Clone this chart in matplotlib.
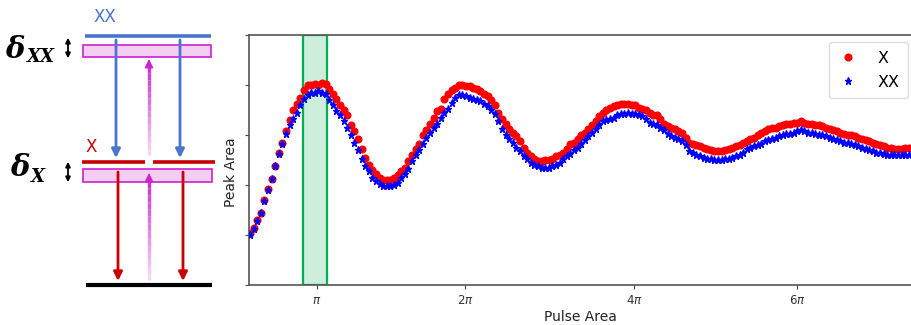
import matplotlib
matplotlib.use("Agg")
import matplotlib.pyplot as plt
from matplotlib.patches import Rectangle
import numpy as np

# ---------------- data ----------------
x_peak = [0.21, 0.23, 0.26, 0.29, 0.34, 0.385, 0.425, 0.475, 0.53, 0.57,
          0.615, 0.66, 0.70, 0.725, 0.75, 0.78, 0.80, 0.80, 0.805, 0.80,
          0.81, 0.805, 0.785, 0.765, 0.745, 0.72, 0.70, 0.68, 0.64, 0.615,
          0.585, 0.545, 0.51, 0.48, 0.46, 0.445, 0.43, 0.42, 0.42, 0.42,
          0.43, 0.44, 0.455, 0.47, 0.495, 0.52, 0.545, 0.565, 0.60, 0.62,
          0.645, 0.67, 0.695, 0.705, 0.745, 0.765, 0.78, 0.79, 0.80, 0.80,
          0.795, 0.795, 0.79, 0.785, 0.775, 0.765, 0.755, 0.74, 0.72, 0.69,
          0.665, 0.645, 0.625, 0.61, 0.595, 0.575, 0.55, 0.53, 0.515, 0.505,
          0.495, 0.495, 0.50, 0.50, 0.505, 0.515, 0.52, 0.53, 0.545, 0.565,
          0.57, 0.585, 0.60, 0.61, 0.625, 0.64, 0.655, 0.675, 0.69, 0.70,
          0.71, 0.715, 0.72, 0.725, 0.725, 0.725, 0.72, 0.72, 0.71, 0.705,
          0.70, 0.69, 0.68, 0.68, 0.665, 0.645, 0.635, 0.63, 0.625, 0.615,
          0.61, 0.59, 0.57, 0.565, 0.56, 0.555, 0.55, 0.545, 0.54, 0.535,
          0.535, 0.535, 0.54, 0.545, 0.55, 0.555, 0.56, 0.57, 0.575, 0.585,
          0.59, 0.60, 0.61, 0.615, 0.625, 0.63, 0.63, 0.635, 0.64, 0.645,
          0.645, 0.65, 0.65, 0.655, 0.65, 0.645, 0.645, 0.64, 0.64, 0.635,
          0.63, 0.625, 0.62, 0.615, 0.61, 0.605, 0.60, 0.60, 0.595, 0.59,
          0.585, 0.58, 0.575, 0.57, 0.565, 0.56, 0.555, 0.55, 0.55, 0.545,
          0.545, 0.545, 0.55, 0.55]

xx_peak = [0.20, 0.225, 0.255, 0.29, 0.335, 0.38, 0.425, 0.475, 0.525, 0.565,
           0.605, 0.64, 0.665, 0.69, 0.72, 0.745, 0.76, 0.77, 0.77, 0.775,
           0.77, 0.765, 0.74, 0.72, 0.695, 0.68, 0.655, 0.63, 0.60, 0.57,
           0.54, 0.505, 0.475, 0.455, 0.43, 0.415, 0.405, 0.395, 0.395, 0.395,
           0.40, 0.41, 0.43, 0.445, 0.465, 0.495, 0.52, 0.54, 0.565, 0.59,
           0.61, 0.63, 0.645, 0.67, 0.69, 0.705, 0.73, 0.75, 0.76, 0.76,
           0.755, 0.75, 0.745, 0.74, 0.735, 0.725, 0.715, 0.70, 0.685, 0.655,
           0.625, 0.60, 0.585, 0.57, 0.55, 0.535, 0.515, 0.505, 0.49, 0.48,
           0.475, 0.47, 0.47, 0.47, 0.475, 0.48, 0.49, 0.505, 0.515, 0.525,
           0.54, 0.55, 0.565, 0.58, 0.595, 0.61, 0.625, 0.64, 0.655, 0.66,
           0.665, 0.67, 0.68, 0.685, 0.685, 0.69, 0.685, 0.685, 0.68, 0.675,
           0.665, 0.65, 0.645, 0.64, 0.63, 0.62, 0.605, 0.595, 0.59, 0.585,
           0.575, 0.56, 0.535, 0.53, 0.52, 0.515, 0.51, 0.505, 0.505, 0.50,
           0.50, 0.50, 0.505, 0.505, 0.51, 0.515, 0.52, 0.53, 0.545, 0.55,
           0.555, 0.56, 0.565, 0.575, 0.58, 0.585, 0.59, 0.595, 0.60, 0.605,
           0.605, 0.61, 0.615, 0.62, 0.615, 0.61, 0.61, 0.605, 0.60, 0.60,
           0.595, 0.59, 0.585, 0.58, 0.575, 0.57, 0.57, 0.565, 0.56, 0.555,
           0.55, 0.545, 0.54, 0.535, 0.53, 0.53, 0.525, 0.52, 0.52, 0.52,
           0.52, 0.52, 0.52, 0.52]

sample_index = np.arange(len(x_peak))           # power step index
tick_positions = [18.6, 59.7, 106.7, 151.9]      # sample index of the labelled pulse areas
tick_labels = [r'$\pi$', r'$2\pi$', r'$4\pi$', r'$6\pi$']
y_ticks = [0.0, 0.2, 0.4, 0.6, 0.8, 1.0]
highlight_span = (14.7, 21.4)                     # pi-pulse window (sample index)
series_labels = ['X', 'XX']

# ---------------- figure ----------------
W, H = 911, 325
fig = plt.figure(figsize=(W / 100, H / 100), dpi=100)

# main plot
ax = fig.add_axes([249 / W, 1 - 285 / H, (911 - 249) / W, 250 / H])
ax.axvspan(*highlight_span, facecolor='#cdeedb', edgecolor='#00b050', linewidth=1.6, zorder=0)
ax.plot(sample_index, x_peak, 'o', color='red', markersize=4.8, label=series_labels[0], zorder=2)
ax.plot(sample_index, xx_peak, '*', color='blue', markersize=5.2, label=series_labels[1], zorder=3)
ax.set_xlim(-0.28, 183.6)
ax.set_ylim(0, 1)
ax.set_xticks(tick_positions)
ax.set_xticklabels(tick_labels, fontsize=8.5, color='#333333')
ax.set_yticks(y_ticks)
ax.set_yticklabels([])
ax.tick_params(length=3, color='#444444', width=0.8)
for s in ['left', 'top', 'bottom']:
    ax.spines[s].set_color('#555555')
    ax.spines[s].set_linewidth(1.2)
ax.spines['right'].set_visible(False)
ax.set_xlabel('Pulse Area', fontsize=10, color='#222222', labelpad=2)
ax.set_ylabel('Peak Area', fontsize=10, color='#222222')
ax.yaxis.set_label_coords(-0.016, 0.45)
leg = ax.legend(loc='upper right', fontsize=11.5, markerscale=1.0, handlelength=1.4,
                handletextpad=1.1, borderpad=0.55, labelspacing=0.55, framealpha=1,
                edgecolor='#dddddd', bbox_to_anchor=(0.9955, 0.972), borderaxespad=0)

# ---------------- energy diagram ----------------
d = fig.add_axes([0, 0, 230 / W, 1])
d.set_xlim(0, 230)
d.set_ylim(H, 0)
d.axis('off')

blue = '#4a74d0'
red = '#c80000'
mag = '#cc22cc'
pink = '#f4cdf2'
serif = dict(family='DejaVu Serif', style='italic', weight='bold', color='black')

d.text(93, 17, 'XX', color=blue, fontsize=12, va='center', ha='left')
d.plot([85, 211], [36, 36], color=blue, lw=2.6, solid_capstyle='butt')
d.add_patch(Rectangle((83, 45), 128, 12, facecolor=pink, edgecolor=mag, lw=1.2))
d.text(5, 49, 'δ', fontsize=21, va='center', ha='left', **serif)
d.text(27, 57, 'XX', fontsize=13, va='center', ha='left', **serif)
d.annotate('', xy=(68, 35), xytext=(68, 61),
           arrowprops=dict(arrowstyle='<|-|>', color='black', lw=1.3, mutation_scale=7))

d.text(85, 147, 'X', color=red, fontsize=12, va='center', ha='left')
d.plot([82, 145], [162, 162], color=red, lw=2.6, solid_capstyle='butt')
d.plot([153, 215], [162, 162], color=red, lw=2.6, solid_capstyle='butt')
d.add_patch(Rectangle((83, 169), 129, 13, facecolor=pink, edgecolor=mag, lw=1.2))
d.text(10, 168, 'δ', fontsize=21, va='center', ha='left', **serif)
d.text(31, 177, 'X', fontsize=13, va='center', ha='left', **serif)
d.annotate('', xy=(68, 159), xytext=(68, 185),
           arrowprops=dict(arrowstyle='<|-|>', color='black', lw=1.3, mutation_scale=7))

d.plot([86, 212], [285, 285], color='black', lw=3, solid_capstyle='butt')

def down_arrow(x, y0, y1, color):
    d.annotate('', xy=(x, y1), xytext=(x, y0),
               arrowprops=dict(arrowstyle='-|>', color=color, lw=2, mutation_scale=13,
                               shrinkA=0, shrinkB=0))

down_arrow(116, 40, 158, blue)
down_arrow(180, 40, 158, blue)
down_arrow(118, 172, 281, red)
down_arrow(183, 172, 281, red)

def pump_arrow(x, y_tail, y_head):
    n = 14
    ys = np.linspace(y_tail, y_head + 8, n + 1)
    for k in range(n):
        a = (k + 1) / n
        d.plot([x, x], [ys[k], ys[k + 1]], color=mag, lw=2.4, alpha=0.12 + 0.8 * a,
               solid_capstyle='butt')
    d.annotate('', xy=(x, y_head), xytext=(x, y_head + 9),
               arrowprops=dict(arrowstyle='-|>', color=mag, lw=1, mutation_scale=13,
                               shrinkA=0, shrinkB=0))

pump_arrow(149, 155, 59)
pump_arrow(149, 280, 173)

fig.savefig('out.png', dpi=100)
